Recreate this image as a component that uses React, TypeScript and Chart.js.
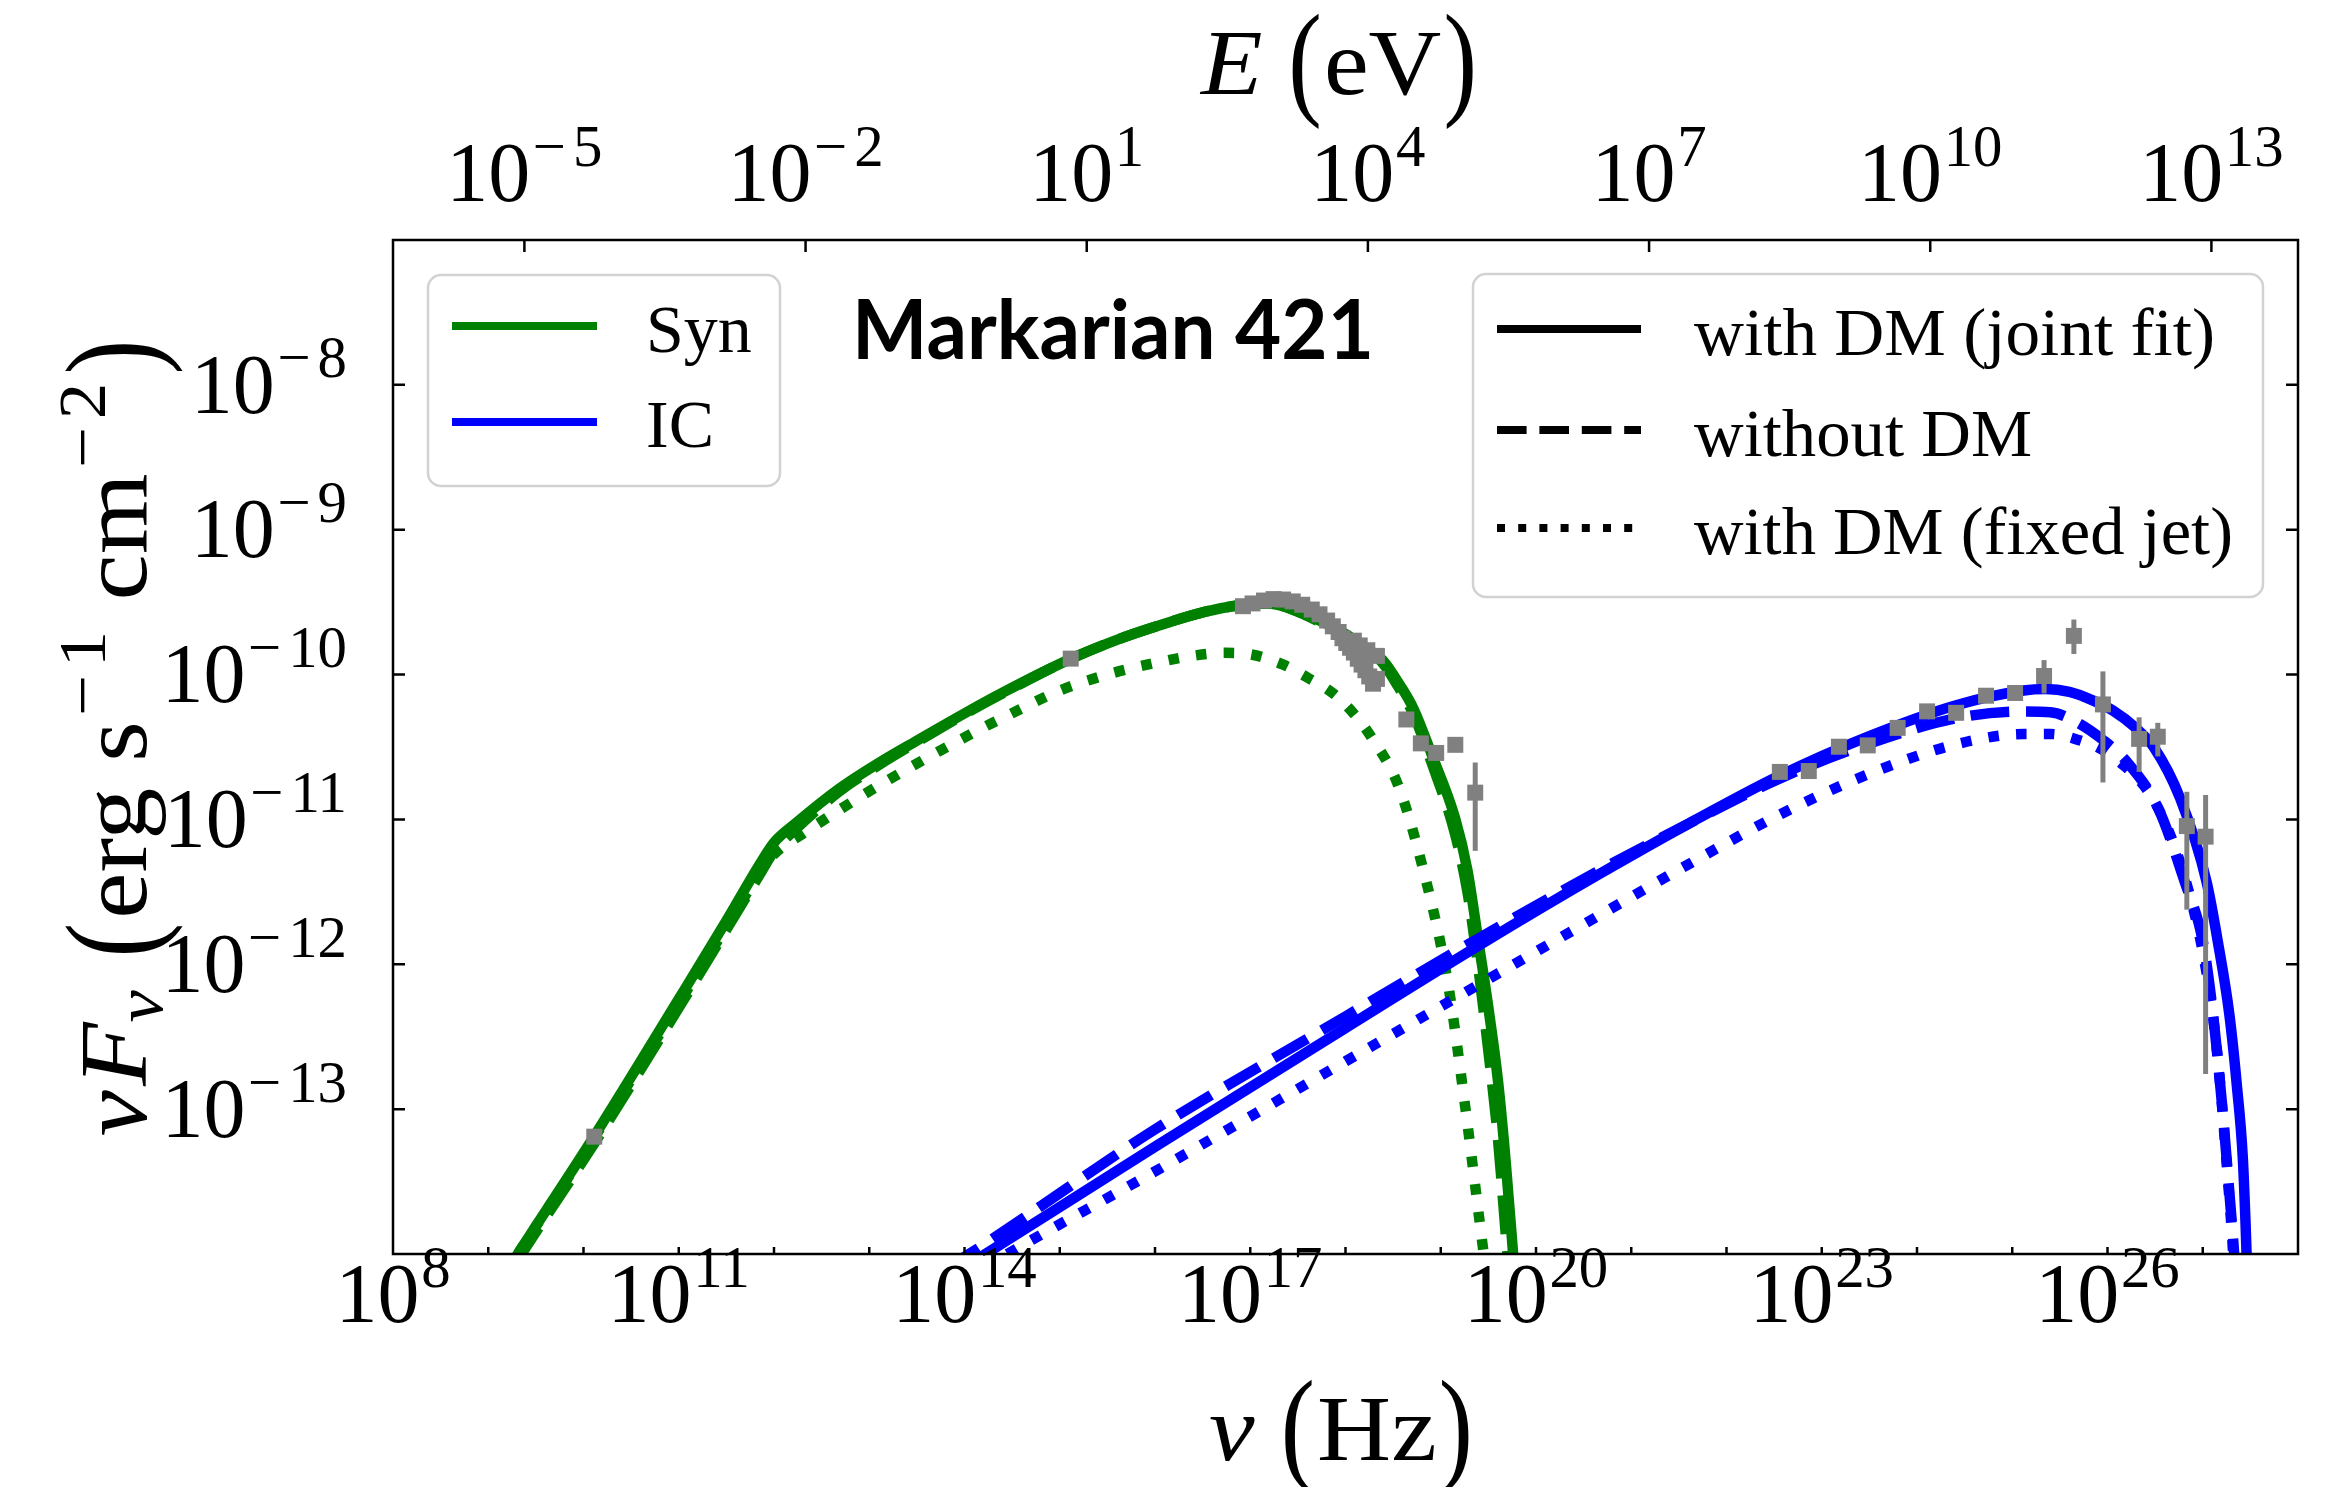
import { useEffect, useRef } from "react";
import { Chart, registerables } from "chart.js";
import type { Plugin } from "chart.js";

Chart.register(...registerables);

const WIDTH = 2339;
const HEIGHT = 1487;

const GREEN = "#008000";
const BLUE = "#0000ff";
const GREY = "#808080";
const LINE_W = 10.5;
const DASHED = [38.9, 16.8];
const DOTTED = [10.5, 17.3];
const KEY_W = 8;
const KEY_DASHED = [29.6, 12.8];
const KEY_DOTTED = [8, 13.2];
const SERIF = '"Liberation Serif", "DejaVu Serif", serif';
const SANS = 'Lato, "Open Sans", sans-serif';

// Synchrotron component, log10 nu [Hz] vs log10 nuF_nu [erg s^-1 cm^-2]
const synJointLogNu = [9.0, 9.31, 10.11, 11.0, 11.5, 11.85, 12.0, 12.24, 12.68, 13.1, 13.49, 14.05, 14.4, 15.12, 15.6, 16.0, 16.5, 16.9, 17.1, 17.3, 17.58, 17.8, 18.0, 18.2, 18.39, 18.55, 18.71, 18.91, 19.15, 19.28, 19.39, 19.5, 19.6, 19.68, 19.76, 19.82];
const synJointLogFlux = [-14.32, -14.0, -13.19, -12.24, -11.7, -11.31, -11.16, -11.02, -10.79, -10.61, -10.46, -10.25, -10.125, -9.89, -9.76, -9.67, -9.57, -9.52, -9.51, -9.52, -9.585, -9.65, -9.72, -9.81, -9.9, -10.05, -10.23, -10.56, -10.99, -11.35, -11.82, -12.3, -12.8, -13.35, -14.0, -14.5];

const synNoDmLogNu = [9.0, 9.35, 10.11, 11.0, 11.5, 11.85, 12.0, 12.24, 12.68, 13.1, 13.49, 14.05, 14.4, 15.12, 15.6, 16.0, 16.5, 16.9, 17.1, 17.3, 17.58, 17.8, 18.0, 18.2, 18.39, 18.55, 18.71, 18.91, 19.15, 19.28, 19.39, 19.5, 19.6, 19.7, 19.76];
const synNoDmLogFlux = [-14.37, -14.0, -13.24, -12.3, -11.76, -11.38, -11.22, -11.06, -10.81, -10.625, -10.47, -10.255, -10.13, -9.89, -9.76, -9.67, -9.57, -9.52, -9.51, -9.52, -9.59, -9.66, -9.73, -9.82, -9.92, -10.08, -10.27, -10.62, -11.1, -11.5, -12.0, -12.6, -13.2, -14.0, -14.4];

const synFixedLogNu = [9.0, 9.31, 10.11, 11.0, 11.5, 11.85, 12.0, 12.3, 13.09, 14.17, 14.4, 15.0, 15.5, 16.0, 16.4, 16.74, 17.0, 17.34, 17.6, 17.87, 18.1, 18.27, 18.55, 18.79, 19.07, 19.25, 19.43, 19.5];
const synFixedLogFlux = [-14.32, -14.0, -13.2, -12.27, -11.74, -11.37, -11.24, -11.1, -10.77, -10.375, -10.3, -10.11, -10.0, -9.92, -9.87, -9.85, -9.86, -9.93, -10.02, -10.13, -10.28, -10.43, -10.76, -11.28, -12.11, -12.95, -13.89, -14.25];

// Inverse-Compton component
const icJointLogNu = [13.9, 14.22, 16, 18, 19.4, 20.67, 21.6, 22.55, 23.48, 24.42, 25.12, 25.35, 25.6, 25.85, 26.06, 26.3, 26.485, 26.76, 27.04, 27.16, 27.28, 27.36, 27.42, 27.45, 27.47, 27.5];
const icJointLogFlux = [-14.13, -14.0, -13.26, -12.44, -11.87, -11.375, -11.03, -10.7, -10.43, -10.21, -10.11, -10.1, -10.12, -10.18, -10.25, -10.37, -10.5, -10.85, -11.43, -11.85, -12.35, -12.85, -13.33, -13.8, -14.2, -14.8];

const icNoDmLogNu = [13.8, 14.05, 16, 18, 19.4, 20.67, 21.6, 22.55, 23.48, 24.42, 25.12, 25.4, 25.68, 25.95, 26.2, 26.53, 26.81, 27.0, 27.1, 27.2, 27.27, 27.33, 27.38];
const icNoDmLogFlux = [-14.1, -14.0, -13.14, -12.36, -11.82, -11.35, -11.03, -10.72, -10.48, -10.3, -10.255, -10.26, -10.33, -10.45, -10.6, -10.92, -11.43, -11.84, -12.3, -12.95, -13.5, -14.0, -14.5];

const icFixedLogNu = [14.2, 14.45, 16, 18, 19.4, 20.67, 21.6, 22.55, 23.48, 24.42, 25.12, 25.4, 25.59, 26.06, 26.53, 26.85, 27.04, 27.15, 27.23, 27.3, 27.33, 27.38];
const icFixedLogFlux = [-14.1, -14.0, -13.43, -12.67, -12.14, -11.66, -11.31, -10.97, -10.69, -10.48, -10.41, -10.41, -10.43, -10.57, -10.92, -11.49, -12.06, -12.6, -13.2, -13.8, -14.1, -14.5];

// Observed SED of Markarian 421 (log10 nu, log10 nuF_nu, error bar ends)
const obsLogNu = [10.113, 15.115,
  16.923, 17.024, 17.144, 17.245, 17.345, 17.446, 17.546, 17.646, 17.727, 17.807, 17.867, 17.928, 17.968, 18.008, 18.048, 18.088, 18.129, 18.169, 18.209, 18.249, 18.289, 18.33, 18.229, 18.149, 18.088, 18.33,
  18.639, 18.791, 18.952, 19.153, 19.362,
  22.56, 22.864, 23.18, 23.483, 23.797, 24.106, 24.411, 24.725, 25.03, 25.334, 25.647, 25.952, 26.332, 26.528, 26.833, 27.03];
const obsLogFlux = [-13.19, -9.89,
  -9.528, -9.509, -9.489, -9.479, -9.482, -9.495, -9.518, -9.551, -9.584, -9.627, -9.667, -9.706, -9.749, -9.782, -9.815, -9.848, -9.891, -9.931, -9.97, -10.013, -10.063, -9.871, -9.832, -9.799, -9.766, -10.03,
  -10.31, -10.475, -10.541, -10.485, -10.815,
  -10.672, -10.666, -10.498, -10.489, -10.368, -10.254, -10.264, -10.146, -10.127, -10.01, -9.733, -10.206, -10.444, -10.429, -11.046, -11.119];
const obsLogFluxLow: (number | null)[] = [null, null,
  null, null, null, null, null, null, null, null, null, null, null, null, null, null, null, null, null, null, null, null, null, null, null, null, null, null,
  null, null, null, null, -11.217,
  null, null, null, null, null, null, null, -10.19, -10.18, -10.13, -9.858, -10.745, -10.672, -10.565, -11.623, -12.757];
const obsLogFluxHigh: (number | null)[] = [null, null,
  null, null, null, null, null, null, null, null, null, null, null, null, null, null, null, null, null, null, null, null, null, null, null, null, null, null,
  null, null, null, null, -10.607,
  null, null, null, null, null, null, null, -10.1, -10.08, -9.9, -9.62, -9.978, -10.295, -10.333, -10.809, -10.831];

// Axis ticks (decade exponents)
const nuTickExps = [9, 10, 11, 12, 13, 14, 15, 16, 17, 18, 19, 20, 21, 22, 23, 24, 25, 26, 27];
const nuLabelExps = [8, 11, 14, 17, 20, 23, 26];
const energyLabelExps = [-5, -2, 1, 4, 7, 10, 13];
const fluxTickExps = [-13, -12, -11, -10, -9, -8];
const fluxLabelExps = [-13, -12, -11, -10, -9, -8];

const toPoints = (lx: number[], ly: number[]) => lx.map((v, i) => ({ x: 10 ** v, y: 10 ** ly[i] }));

// sy stretches a glyph vertically about its centre (tall, thin delimiters)
type Run = { text: string; size: number; italic?: boolean; rise?: number; before?: number; after?: number; sy?: number };

function runFont(r: Run) {
  return `${r.italic ? "italic " : ""}${r.size}px ${SERIF}`;
}

function runsWidth(ctx: CanvasRenderingContext2D, runs: Run[]) {
  let w = 0;
  for (const r of runs) {
    ctx.font = runFont(r);
    w += (r.before ?? 0) + ctx.measureText(r.text).width + (r.after ?? 0);
  }
  return w;
}

// Draws a run of mixed-size text; with `fit` the whole run is stretched to that length.
function drawRuns(ctx: CanvasRenderingContext2D, runs: Run[], x: number, y: number, align: "left" | "center" | "right", fit?: number) {
  const natural = runsWidth(ctx, runs);
  const w = fit ?? natural;
  const k = w / natural;
  const start = align === "center" ? x - w / 2 : align === "right" ? x - w : x;
  ctx.save();
  ctx.translate(start, y);
  ctx.scale(k, 1);
  ctx.textAlign = "left";
  ctx.textBaseline = "alphabetic";
  let cx = 0;
  for (const r of runs) {
    ctx.font = runFont(r);
    cx += r.before ?? 0;
    if (r.sy) {
      const pivot = r.size * 0.255;
      ctx.save();
      ctx.translate(cx, -(r.rise ?? 0) - pivot);
      ctx.scale(1, r.sy);
      ctx.fillText(r.text, 0, pivot);
      ctx.restore();
    } else {
      ctx.fillText(r.text, cx, -(r.rise ?? 0));
    }
    cx += ctx.measureText(r.text).width + (r.after ?? 0);
  }
  ctx.restore();
}

const TICK_FS = 84;

function powRuns(exp: number, fs: number): Run[] {
  const sup = fs * 0.7;
  const rise = fs * 0.42;
  const runs: Run[] = [{ text: "10", size: fs }];
  if (exp < 0) {
    runs.push({ text: "\u2212", size: sup, rise, before: fs * 0.03, after: sup * 0.12 });
    runs.push({ text: String(-exp), size: sup, rise });
  } else {
    runs.push({ text: String(exp), size: sup, rise, before: fs * 0.02 });
  }
  return runs;
}

function legendBox(ctx: CanvasRenderingContext2D, x0: number, y0: number, x1: number, y1: number) {
  ctx.save();
  ctx.beginPath();
  ctx.roundRect(x0, y0, x1 - x0, y1 - y0, 13);
  ctx.fillStyle = "rgba(255,255,255,0.8)";
  ctx.fill();
  ctx.strokeStyle = "#d2d2d2";
  ctx.lineWidth = 2.5;
  ctx.stroke();
  ctx.restore();
}

function legendLine(ctx: CanvasRenderingContext2D, x0: number, x1: number, y: number, color: string, dash: number[]) {
  ctx.save();
  ctx.strokeStyle = color;
  ctx.lineWidth = KEY_W;
  ctx.lineCap = "butt";
  ctx.setLineDash(dash);
  ctx.beginPath();
  ctx.moveTo(x0, y);
  ctx.lineTo(x1, y);
  ctx.stroke();
  ctx.restore();
}

const errorBarPlugin: Plugin<"line"> = {
  id: "errorBars",
  beforeDatasetDraw(chart, args) {
    if (args.index !== 0) return;
    const { ctx, scales } = chart;
    const xs = scales.x;
    const ys = scales.y;
    ctx.save();
    ctx.strokeStyle = GREY;
    ctx.lineWidth = 5;
    ctx.lineCap = "butt";
    obsLogNu.forEach((lx, i) => {
      const lo = obsLogFluxLow[i];
      const hi = obsLogFluxHigh[i];
      if (lo === null || hi === null) return;
      const px = xs.getPixelForValue(10 ** lx);
      ctx.beginPath();
      ctx.moveTo(px, ys.getPixelForValue(10 ** lo));
      ctx.lineTo(px, ys.getPixelForValue(10 ** hi));
      ctx.stroke();
    });
    ctx.restore();
  },
};

const axesPlugin: Plugin<"line"> = {
  id: "sedAxes",
  afterDraw(chart) {
    const { ctx, chartArea: a, scales } = chart;
    const xs = scales.x;
    const ys = scales.y;
    const es = scales.xE;
    ctx.save();
    ctx.fillStyle = "#000";
    ctx.strokeStyle = "#000";
    ctx.lineWidth = 2.5;
    ctx.lineCap = "butt";

    // inward ticks
    ctx.beginPath();
    for (const e of nuTickExps) {
      const px = xs.getPixelForValue(10 ** e);
      ctx.moveTo(px, a.bottom);
      ctx.lineTo(px, a.bottom - 7);
    }
    for (const e of energyLabelExps) {
      const px = es.getPixelForValue(10 ** e);
      ctx.moveTo(px, a.top);
      ctx.lineTo(px, a.top + 12);
    }
    for (const e of fluxTickExps) {
      const py = ys.getPixelForValue(10 ** e);
      ctx.moveTo(a.left, py);
      ctx.lineTo(a.left + 12, py);
      ctx.moveTo(a.right, py);
      ctx.lineTo(a.right - 12, py);
    }
    ctx.stroke();
    ctx.strokeRect(a.left, a.top, a.right - a.left, a.bottom - a.top);

    // tick labels
    for (const e of nuLabelExps) {
      drawRuns(ctx, powRuns(e, TICK_FS), xs.getPixelForValue(10 ** e), 1322, "center");
    }
    for (const e of energyLabelExps) {
      drawRuns(ctx, powRuns(e, TICK_FS), es.getPixelForValue(10 ** e), 201, "center");
    }
    for (const e of fluxLabelExps) {
      drawRuns(ctx, powRuns(e, TICK_FS), 347, ys.getPixelForValue(10 ** e) + TICK_FS * 0.33, "right");
    }

    // axis titles
    const TF = 94;
    const PS = 1.35;
    drawRuns(ctx, [
      { text: "\u03bd", size: TF, italic: true },
      { text: "(", size: TF, sy: PS, before: 24, after: 2 },
      { text: "Hz", size: TF },
      { text: ")", size: TF, sy: PS, before: 2 },
    ], 1341, 1460, "center", 264);
    drawRuns(ctx, [
      { text: "E", size: TF, italic: true },
      { text: "(", size: TF, sy: PS, before: 24, after: 2 },
      { text: "eV", size: TF },
      { text: ")", size: TF, sy: PS, before: 2 },
    ], 1339, 94, "center", 276);

    ctx.save();
    ctx.translate(146, 738);
    ctx.rotate(-Math.PI / 2);
    const YF = 96;
    const SUP = YF * 0.7;
    drawRuns(ctx, [
      { text: "\u03bd", size: YF, italic: true },
      { text: "F", size: YF, italic: true, before: 4 },
      { text: "\u03bd", size: SUP, italic: true, rise: -16 },
      { text: "(", size: YF, sy: PS, before: 30, after: 4 },
      { text: "erg", size: YF },
      { text: "s", size: YF, before: 24 },
      { text: "\u2212", size: SUP, rise: 41, before: 5, after: 7 },
      { text: "1", size: SUP, rise: 41 },
      { text: "cm", size: YF, before: 28 },
      { text: "\u2212", size: SUP, rise: 41, before: 5, after: 7 },
      { text: "2", size: SUP, rise: 41 },
      { text: ")", size: YF, sy: PS, before: 8 },
    ], 0, 0, "center", 797);
    ctx.restore();

    // source name
    ctx.font = `bold 82px ${SANS}`;
    ctx.textAlign = "left";
    ctx.textBaseline = "alphabetic";
    ctx.fillText("Markarian 421", 852, 359, 522);

    // component legend
    const LF = 68;
    legendBox(ctx, 428, 275, 780, 486);
    legendLine(ctx, 452, 597, 326, GREEN, []);
    legendLine(ctx, 452, 597, 422, BLUE, []);
    ctx.fillStyle = "#000";
    drawRuns(ctx, [{ text: "Syn", size: LF }], 646, 352, "left");
    drawRuns(ctx, [{ text: "IC", size: LF }], 646, 447, "left");

    // model legend
    legendBox(ctx, 1473, 274, 2263, 597);
    legendLine(ctx, 1497, 1641, 329, "#000", []);
    legendLine(ctx, 1497, 1641, 430, "#000", KEY_DASHED);
    legendLine(ctx, 1497, 1641, 528, "#000", KEY_DOTTED);
    ctx.fillStyle = "#000";
    drawRuns(ctx, [{ text: "with DM (joint fit)", size: LF }], 1694, 355, "left", 521);
    drawRuns(ctx, [{ text: "without DM", size: LF }], 1694, 456, "left", 338);
    drawRuns(ctx, [{ text: "with DM (fixed jet)", size: LF }], 1694, 554, "left", 539);

    ctx.restore();
  },
};

function curve(label: string, lx: number[], ly: number[], color: string, dash: number[]) {
  return {
    type: "line" as const,
    label,
    data: toPoints(lx, ly),
    borderColor: color,
    borderWidth: LINE_W,
    borderDash: dash,
    borderCapStyle: "butt" as const,
    borderJoinStyle: "round" as const,
    pointRadius: 0,
    pointHoverRadius: 0,
    fill: false,
    cubicInterpolationMode: "monotone" as const,
    clip: 0,
  };
}

export default function App() {
  const canvasRef = useRef<HTMLCanvasElement>(null);

  useEffect(() => {
    let chart: Chart | null = null;
    let cancelled = false;
    const fonts = [`84px ${SERIF}`, `italic 94px ${SERIF}`, `bold 82px ${SANS}`];
    Promise.all(fonts.map((f) => document.fonts.load(f).catch(() => []))).then(() => {
      if (cancelled || !canvasRef.current) return;
      chart = new Chart(canvasRef.current, {
        type: "line",
        data: {
          datasets: [
            {
              type: "line",
              label: "Mrk 421 data",
              data: toPoints(obsLogNu, obsLogFlux),
              showLine: false,
              pointStyle: "rect",
              pointRadius: 11.3,
              pointHoverRadius: 11.3,
              pointBackgroundColor: GREY,
              pointBorderColor: GREY,
              pointBorderWidth: 0,
              clip: 0,
            },
            curve("IC joint", icJointLogNu, icJointLogFlux, BLUE, []),
            curve("IC no DM", icNoDmLogNu, icNoDmLogFlux, BLUE, DASHED),
            curve("IC fixed jet", icFixedLogNu, icFixedLogFlux, BLUE, DOTTED),
            curve("Syn joint", synJointLogNu, synJointLogFlux, GREEN, []),
            curve("Syn no DM", synNoDmLogNu, synNoDmLogFlux, GREEN, DASHED),
            curve("Syn fixed jet", synFixedLogNu, synFixedLogFlux, GREEN, DOTTED),
          ],
        },
        options: {
          animation: false,
          responsive: false,
          maintainAspectRatio: false,
          devicePixelRatio: 1,
          events: [],
          layout: { padding: { left: 393, top: 240, right: WIDTH - 2298, bottom: HEIGHT - 1254 } },
          elements: { line: { capBezierPoints: false } },
          plugins: { legend: { display: false }, tooltip: { enabled: false } },
          scales: {
            x: { type: "logarithmic", min: 1e8, max: 1e28, display: false, bounds: "data" },
            y: { type: "logarithmic", min: 1e-14, max: 1e-7, display: false, bounds: "data" },
            xE: { type: "logarithmic", axis: "x", position: "top", min: 10 ** -6.402, max: 10 ** 13.924, display: false, bounds: "data" },
          },
        },
        plugins: [errorBarPlugin, axesPlugin],
      });
    });
    return () => {
      cancelled = true;
      if (chart) chart.destroy();
    };
  }, []);

  return (
    <div style={{ position: "absolute", left: 0, top: 0, width: WIDTH, height: HEIGHT, background: "#fff" }}>
      <canvas ref={canvasRef} width={WIDTH} height={HEIGHT} style={{ display: "block", width: WIDTH, height: HEIGHT }} />
    </div>
  );
}
